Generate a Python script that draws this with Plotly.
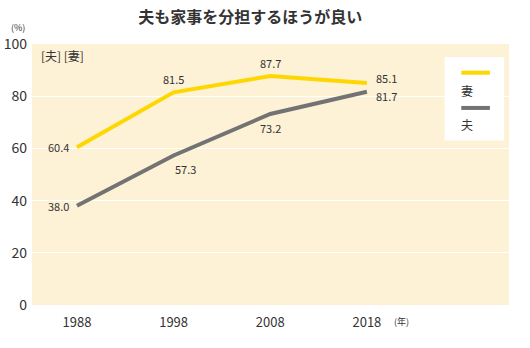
import plotly.graph_objects as go

years = [1988, 1998, 2008, 2018]
wife = [60.4, 81.5, 87.7, 85.1]
husband = [38.0, 57.3, 73.2, 81.7]
y_ticks = [0, 20, 40, 60, 80, 100]

# label placement: (xanchor, yanchor, xshift, yshift)
wife_lbl = [("right", "middle", -6, 0), ("center", "bottom", 0, 3),
            ("center", "bottom", 0, 3), ("left", "middle", 7, 5)]
husband_lbl = [("right", "middle", -6, 0), ("center", "top", 12, -4),
               ("center", "top", 0, -4), ("left", "middle", 7, -4)]

FONT = "Noto Sans CJK JP"
YELLOW = "#FFD700"
GRAY = "#737373"
TXT = "#333333"

fig = go.Figure()
fig.add_trace(go.Scatter(x=years, y=wife, mode="lines", name="妻",
                         line=dict(color=YELLOW, width=4)))
fig.add_trace(go.Scatter(x=years, y=husband, mode="lines", name="夫",
                         line=dict(color=GRAY, width=4)))

for xs, ys, lbls in [(years, wife, wife_lbl), (years, husband, husband_lbl)]:
    for x, y, (xa, ya, dx, dy) in zip(xs, ys, lbls):
        fig.add_annotation(x=x, y=y, text=f"{y:.1f}", showarrow=False,
                           xanchor=xa, yanchor=ya, xshift=dx, yshift=dy,
                           font=dict(family=FONT, size=11, color=TXT))

# legend box
fig.add_shape(type="rect", xref="paper", yref="paper", x0=0.865, x1=0.99, y0=0.63, y1=0.95,
              fillcolor="white", line=dict(width=0), layer="above")
fig.add_shape(type="line", xref="paper", yref="paper", x0=0.9, x1=0.96, y0=0.89, y1=0.89,
              line=dict(color=YELLOW, width=4), layer="above")
fig.add_shape(type="line", xref="paper", yref="paper", x0=0.9, x1=0.96, y0=0.755, y1=0.755,
              line=dict(color=GRAY, width=4), layer="above")
fig.add_annotation(xref="paper", yref="paper", x=0.895, y=0.82, text="妻", showarrow=False,
                   xanchor="left", yanchor="middle", font=dict(family=FONT, size=12, color=TXT))
fig.add_annotation(xref="paper", yref="paper", x=0.895, y=0.69, text="夫", showarrow=False,
                   xanchor="left", yanchor="middle", font=dict(family=FONT, size=12, color=TXT))

# other texts
fig.add_annotation(xref="paper", yref="paper", x=0.015, y=0.955, text="[夫] [妻]", showarrow=False,
                   xanchor="left", yanchor="middle", font=dict(family=FONT, size=12, color=TXT))
fig.add_annotation(xref="paper", yref="paper", x=-0.03, y=1.03, text="(%)", showarrow=False,
                   xanchor="center", yanchor="bottom", font=dict(family=FONT, size=9, color=TXT))
fig.add_annotation(xref="paper", yref="paper", x=0.755, y=-0.065, text="(年)", showarrow=False,
                   xanchor="left", yanchor="middle", font=dict(family=FONT, size=9, color=TXT))

fig.update_layout(
    width=530, height=348,
    margin=dict(l=32, r=21, t=44, b=43),
    paper_bgcolor="white", plot_bgcolor="#FDF1D6",
    showlegend=False,
    title=dict(text="<b>夫も家事を分担するほうが良い</b>", x=0.472, xanchor="center", y=0.95,
               yanchor="middle", font=dict(family=FONT, size=16, color=TXT)),
    xaxis=dict(range=[1983.35, 2032.7], tickvals=years, ticktext=[str(y) for y in years],
               showgrid=False, zeroline=False, ticks="", showline=False, automargin=False,
               ticklabelstandoff=8,
               tickfont=dict(family=FONT, size=13, color=TXT)),
    yaxis=dict(range=[0, 100], tickvals=y_ticks, showgrid=True, gridcolor="white", gridwidth=1,
               zeroline=False, ticks="", showline=False, ticklabelstandoff=4, automargin=False,
               tickfont=dict(family=FONT, size=14, color=TXT)),
)

fig.write_html("out.html")
